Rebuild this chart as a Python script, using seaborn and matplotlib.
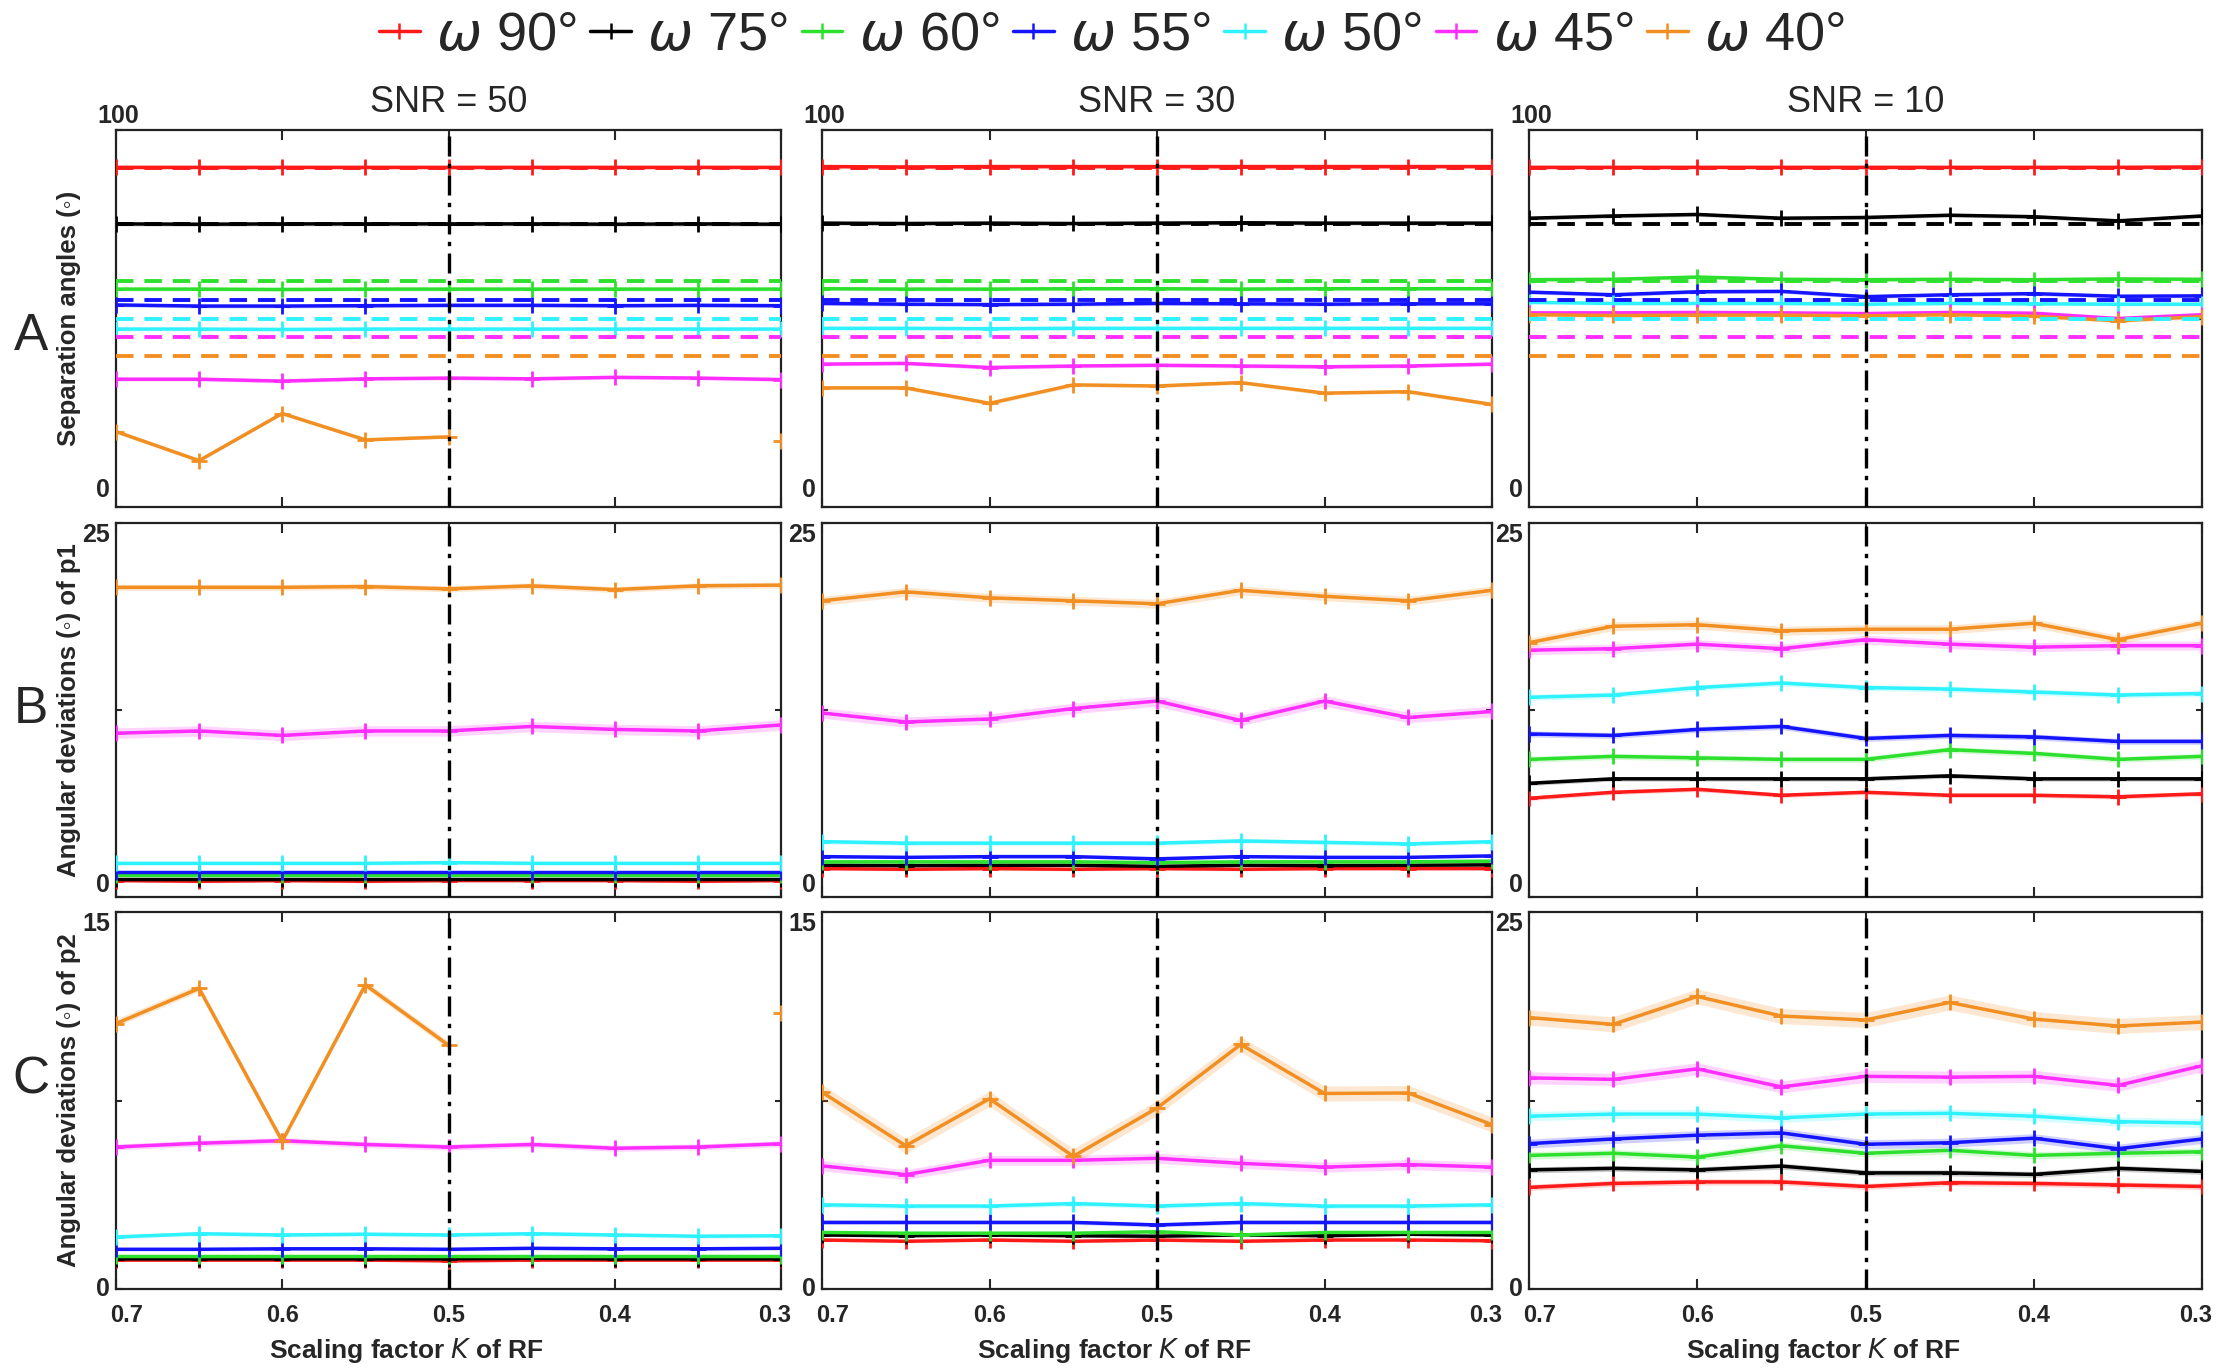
import numpy as np
import pandas as pd
import matplotlib
matplotlib.use("Agg")
import matplotlib.pyplot as plt
import matplotlib.transforms as mtransforms
from matplotlib.lines import Line2D
import seaborn as sns

# ---------------- data ----------------
K = [0.7, 0.65, 0.6, 0.55, 0.5, 0.45, 0.4, 0.35, 0.3]
OMEGA = [90, 75, 60, 55, 50, 45, 40]
LEGEND_LABELS = [r"$\omega$ 90°", r"$\omega$ 75°", r"$\omega$ 60°", r"$\omega$ 55°",
                 r"$\omega$ 50°", r"$\omega$ 45°", r"$\omega$ 40°"]
COLORS = ["#ff1a1a", "#000000", "#2ee02e", "#1414ff", "#2ef2ff", "#ff2eff", "#f28f22"]
TRUE_ANGLES = [90, 75, 60, 55, 50, 45, 40]
SNR_TITLES = ["SNR = 50", "SNR = 30", "SNR = 10"]
ROW_LETTERS = ["A", "B", "C"]
Y_LABELS = ["Separation angles (◦)", "Angular deviations (◦) of p1",
            "Angular deviations (◦) of p2"]
X_LABEL = r"Scaling factor $\mathbf{\mathit{K}}$ of RF"
X_TICKS = [0.7, 0.6, 0.5, 0.4, 0.3]
X_TICK_LABELS = ["0.7", "0.6", "0.5", "0.4", "0.3"]
REF_K = 0.5
Y_MAX = [[100, 100, 100], [25, 25, 25], [15, 15, 25]]
nan = np.nan

# Row A: separation angles
sep_snr50 = [
    [90.3, 90.3, 90.3, 90.3, 90.3, 90.3, 90.3, 90.3, 90.3],
    [75.1, 75.0, 75.1, 75.1, 75.1, 75.1, 75.0, 75.1, 75.0],
    [57.8, 57.8, 57.7, 57.8, 57.8, 57.8, 57.8, 57.8, 57.8],
    [53.6, 53.3, 53.3, 53.4, 53.5, 53.5, 53.4, 53.5, 53.4],
    [47.2, 47.2, 47.1, 47.2, 47.2, 47.2, 47.2, 47.2, 47.2],
    [33.9, 33.9, 33.4, 34.0, 34.2, 34.0, 34.4, 34.2, 33.8],
    [20.0, 12.3, 24.8, 17.8, 18.6, nan, nan, nan, 17.5],
]
sep_snr30 = [
    [90.3, 90.2, 90.3, 90.3, 90.3, 90.3, 90.3, 90.3, 90.3],
    [75.3, 75.2, 75.3, 75.2, 75.3, 75.4, 75.3, 75.3, 75.3],
    [57.9, 57.8, 57.8, 57.9, 57.9, 57.8, 57.9, 57.9, 57.9],
    [54.0, 53.8, 53.7, 53.8, 54.0, 53.9, 53.8, 53.9, 53.9],
    [47.4, 47.4, 47.3, 47.4, 47.4, 47.4, 47.4, 47.4, 47.4],
    [37.9, 38.1, 37.0, 37.4, 37.6, 37.4, 37.2, 37.4, 37.9],
    [31.6, 31.6, 27.5, 32.4, 32.1, 33.0, 30.2, 30.6, 27.2],
]
sep_snr10 = [
    [90.1, 90.1, 90.1, 90.1, 90.1, 90.1, 90.1, 90.1, 90.2],
    [76.6, 77.2, 77.6, 76.6, 76.8, 77.4, 77.0, 75.9, 77.2],
    [60.3, 60.4, 61.0, 60.4, 60.3, 60.4, 60.3, 60.5, 60.4],
    [57.0, 56.3, 57.1, 57.2, 55.8, 56.3, 56.6, 55.9, 56.0],
    [54.3, 54.0, 54.0, 54.0, 53.8, 54.0, 53.9, 53.8, 53.8],
    [51.5, 51.5, 51.6, 51.5, 51.3, 51.6, 51.4, 50.0, 51.0],
    [51.0, 50.8, 50.9, 50.9, 50.7, 51.0, 50.6, 49.4, 50.5],
]
# Row B: angular deviations of p1
p1_snr50 = [
    [1.10, 1.05, 1.10, 1.05, 1.10, 1.10, 1.10, 1.05, 1.10],
    [1.20, 1.20, 1.20, 1.20, 1.20, 1.20, 1.20, 1.20, 1.20],
    [1.45, 1.45, 1.45, 1.45, 1.45, 1.45, 1.45, 1.45, 1.45],
    [1.65, 1.65, 1.65, 1.65, 1.65, 1.65, 1.65, 1.65, 1.65],
    [2.25, 2.25, 2.25, 2.25, 2.30, 2.25, 2.25, 2.25, 2.25],
    [10.95, 11.1, 10.8, 11.1, 11.1, 11.4, 11.2, 11.1, 11.5],
    [20.7, 20.7, 20.7, 20.75, 20.6, 20.8, 20.55, 20.8, 20.85],
]
p1_snr30 = [
    [1.90, 1.85, 1.90, 1.85, 1.90, 1.85, 1.90, 1.90, 1.90],
    [2.12, 2.10, 2.12, 2.12, 2.05, 2.12, 2.10, 2.12, 2.15],
    [2.35, 2.35, 2.35, 2.35, 2.30, 2.35, 2.35, 2.35, 2.40],
    [2.70, 2.65, 2.70, 2.70, 2.55, 2.70, 2.65, 2.65, 2.75],
    [3.70, 3.60, 3.60, 3.60, 3.60, 3.75, 3.65, 3.55, 3.70],
    [12.3, 11.7, 11.9, 12.6, 13.1, 11.8, 13.1, 12.0, 12.4],
    [19.8, 20.4, 20.0, 19.8, 19.6, 20.5, 20.1, 19.8, 20.5],
]
p1_snr10 = [
    [6.6, 7.0, 7.2, 6.8, 7.0, 6.8, 6.8, 6.7, 6.9],
    [7.6, 7.9, 7.9, 7.9, 7.9, 8.1, 7.9, 7.9, 7.9],
    [9.2, 9.4, 9.3, 9.2, 9.2, 9.85, 9.6, 9.2, 9.4],
    [10.9, 10.8, 11.2, 11.4, 10.6, 10.8, 10.7, 10.4, 10.4],
    [13.35, 13.5, 14.0, 14.3, 14.0, 13.9, 13.7, 13.5, 13.6],
    [16.5, 16.6, 16.9, 16.6, 17.2, 16.9, 16.7, 16.8, 16.8],
    [17.0, 18.1, 18.2, 17.8, 17.9, 17.9, 18.3, 17.2, 18.3],
]
# Row C: angular deviations of p2
p2_snr50 = [
    [1.15, 1.15, 1.15, 1.15, 1.12, 1.15, 1.15, 1.15, 1.15],
    [1.20, 1.20, 1.20, 1.20, 1.20, 1.22, 1.20, 1.20, 1.20],
    [1.30, 1.30, 1.30, 1.30, 1.30, 1.30, 1.30, 1.30, 1.30],
    [1.58, 1.58, 1.60, 1.60, 1.58, 1.62, 1.60, 1.60, 1.62],
    [2.07, 2.20, 2.15, 2.18, 2.15, 2.20, 2.15, 2.10, 2.12],
    [5.65, 5.80, 5.90, 5.75, 5.65, 5.75, 5.60, 5.65, 5.78],
    [10.56, 11.96, 5.88, 12.1, 9.7, nan, nan, nan, 11.0],
]
p2_snr30 = [
    [1.95, 1.90, 1.95, 1.90, 1.95, 1.90, 1.95, 1.95, 1.92],
    [2.15, 2.12, 2.15, 2.12, 2.10, 2.15, 2.12, 2.18, 2.15],
    [2.25, 2.22, 2.22, 2.22, 2.28, 2.15, 2.25, 2.25, 2.25],
    [2.65, 2.65, 2.65, 2.65, 2.55, 2.65, 2.65, 2.65, 2.65],
    [3.35, 3.30, 3.30, 3.40, 3.30, 3.40, 3.30, 3.30, 3.35],
    [4.90, 4.55, 5.12, 5.12, 5.20, 5.00, 4.85, 4.95, 4.85],
    [7.83, 5.70, 7.57, 5.28, 7.20, 9.73, 7.78, 7.80, 6.54],
]
p2_snr10 = [
    [6.74, 7.0, 7.1, 7.1, 6.8, 7.05, 7.0, 6.9, 6.8],
    [7.9, 8.0, 7.9, 8.15, 7.7, 7.7, 7.6, 8.0, 7.8],
    [8.86, 9.0, 8.75, 9.5, 9.0, 9.2, 8.86, 9.0, 9.1],
    [9.64, 9.95, 10.2, 10.35, 9.6, 9.7, 10.0, 9.3, 9.95],
    [11.46, 11.6, 11.6, 11.35, 11.6, 11.65, 11.46, 11.1, 11.0],
    [14.0, 13.9, 14.6, 13.4, 14.1, 14.05, 14.1, 13.5, 14.8],
    [18.0, 17.55, 19.4, 18.1, 17.84, 19.0, 17.9, 17.44, 17.7],
]
# half-width of the shaded bands (per series, per panel)
band_sep = [0.5, 0.5, 0.5, 0.5, 0.5, 0.5, 0.5]
band_p1_snr50 = [0.1, 0.1, 0.1, 0.1, 0.12, 0.35, 0.2]
band_p1_snr30 = [0.1, 0.1, 0.1, 0.1, 0.15, 0.35, 0.3]
band_p1_snr10 = [0.15, 0.15, 0.2, 0.2, 0.2, 0.3, 0.3]
band_p2_snr50 = [0.05, 0.05, 0.05, 0.06, 0.08, 0.12, 0.15]
band_p2_snr30 = [0.06, 0.06, 0.06, 0.08, 0.1, 0.2, 0.3]
band_p2_snr10 = [0.2, 0.2, 0.25, 0.3, 0.3, 0.4, 0.5]

PANELS = [
    [(sep_snr50, band_sep), (sep_snr30, band_sep), (sep_snr10, band_sep)],
    [(p1_snr50, band_p1_snr50), (p1_snr30, band_p1_snr30), (p1_snr10, band_p1_snr10)],
    [(p2_snr50, band_p2_snr50), (p2_snr30, band_p2_snr30), (p2_snr10, band_p2_snr10)],
]

# ---------------- style ----------------
sns.set_style("white")
plt.rcParams["font.family"] = ["Liberation Sans", "DejaVu Sans"]
plt.rcParams["mathtext.fontset"] = "dejavusans"
plt.rcParams["axes.linewidth"] = 1.6
plt.rcParams["axes.edgecolor"] = "#222222"

W, H = 2224, 1369
fig = plt.figure(figsize=(W / 100, H / 100), dpi=100)

col_px = [(116, 781), (822, 1492), (1529, 2202)]
row_px = [(130, 507), (523, 897), (912, 1289)]
palette = dict(zip(OMEGA, COLORS))
XLABEL_SHIFT = [-9, 0, 0, 0, 0]   # pixel nudges of the tick labels (first / last inward)
XLABEL_SHIFT[0], XLABEL_SHIFT[-1] = 11, -6

TICK_FS = 18
for r in range(3):
    for c in range(3):
        x0, x1 = col_px[c]
        y0, y1 = row_px[r]
        ax = fig.add_axes([x0 / W, 1 - y1 / H, (x1 - x0) / W, (y1 - y0) / H])
        values, bands = PANELS[r][c]
        ymax = Y_MAX[r][c]

        # shaded bands
        for vals, b, col in zip(values, bands, COLORS):
            arr = np.array(vals, dtype=float)
            ax.fill_between(K, arr - b, arr + b, color=col, alpha=0.2, lw=0, zorder=1)

        # long-form data; a new segment starts after missing values
        rows = []
        for om, vals in zip(OMEGA, values):
            seg = 0
            for k, v in zip(K, vals):
                if np.isnan(v):
                    seg += 1
                    continue
                rows.append({"K": k, "val": v, "omega": om, "seg": seg})
        df = pd.DataFrame(rows)
        sns.lineplot(data=df, x="K", y="val", hue="omega", units="seg", estimator=None,
                     palette=palette, hue_order=OMEGA, marker="+", markersize=11,
                     markeredgewidth=2.0, linewidth=2.5, legend=False, ax=ax, zorder=3)
        for ln in ax.lines:
            ln.set_markeredgecolor(ln.get_color())
            ln.set_markerfacecolor(ln.get_color())

        # true angles (dashed) in row A
        if r == 0:
            for t, col in zip(TRUE_ANGLES, COLORS):
                ax.plot([K[0], K[-1]], [t, t], color=col, lw=2.8,
                        ls=(0, (4.5, 2.8)), zorder=4)

        ax.axvline(REF_K, color="black", lw=2.4, ls=(0, (6, 2.2, 1.3, 2.2)), zorder=5)

        ax.set_xlim(K[0], K[-1])
        ax.set_ylim(0, ymax)
        ax.set_xticks(X_TICKS)
        ax.set_yticks([0, ymax / 2, ymax])
        ax.tick_params(axis="x", direction="in", top=True, bottom=True, length=7,
                       width=1.5, labelbottom=False)
        ax.tick_params(axis="y", direction="in", left=True, right=True, length=4,
                       width=1.5, labelleft=False)
        ax.set_xlabel("")
        if r == 2:
            for xt, lab, dx in zip(X_TICKS, X_TICK_LABELS, XLABEL_SHIFT):
                tr = mtransforms.offset_copy(ax.get_xaxis_transform(), fig=fig,
                                             x=dx, y=-15, units="dots")
                ax.text(xt, 0, lab, transform=tr, ha="center", va="top",
                        fontsize=17, fontweight="bold")
            ax.set_xlabel(X_LABEL, fontsize=19, fontweight="bold")
            ax.xaxis.set_label_coords(0.437, -0.125)
        if c == 0:
            ax.set_ylabel(Y_LABELS[r], fontsize=18.5, fontweight="bold")
            ax.yaxis.set_label_coords(-0.052, 0.5)
        else:
            ax.set_ylabel("")
        if r == 0:
            ax.set_title(SNR_TITLES[c], fontsize=26, pad=13)

        # y tick labels (only min and max)
        off = mtransforms.offset_copy(ax.get_yaxis_transform(), fig=fig, x=-6, y=0, units="dots")
        if r == 0:
            top = mtransforms.offset_copy(ax.get_yaxis_transform(), fig=fig, x=2, y=2, units="dots")
            ax.text(0, ymax, f"{ymax}", transform=top, ha="center", va="bottom",
                    fontsize=TICK_FS, fontweight="bold")
            zoff = mtransforms.offset_copy(ax.get_yaxis_transform(), fig=fig, x=-6, y=5, units="dots")
            ax.text(0, 0, "0", transform=zoff, ha="right", va="bottom",
                    fontsize=TICK_FS, fontweight="bold")
        else:
            ax.text(0, ymax, f"{ymax}", transform=off, ha="right", va="top",
                    fontsize=TICK_FS, fontweight="bold")
            ax.text(0, 0, "0", transform=off, ha="right",
                    va="bottom" if r == 1 else "center", fontsize=TICK_FS, fontweight="bold")

# row letters
for letter, ypx in zip(ROW_LETTERS, [337, 709, 1080]):
    fig.text(31 / W, 1 - ypx / H, letter, fontsize=37, ha="center", va="center")

# legend
handles = [Line2D([], [], color=col, marker="+", markersize=12, markeredgewidth=1.8, lw=2.5)
           for col in COLORS]
fig.legend(handles, LEGEND_LABELS, loc="center", bbox_to_anchor=(0.5, 1 - 36 / H),
           ncol=7, frameon=False, fontsize=39, handlelength=0.75, handletextpad=0.3,
           columnspacing=0.25, borderaxespad=0)

fig.savefig("out.png", dpi=100)
